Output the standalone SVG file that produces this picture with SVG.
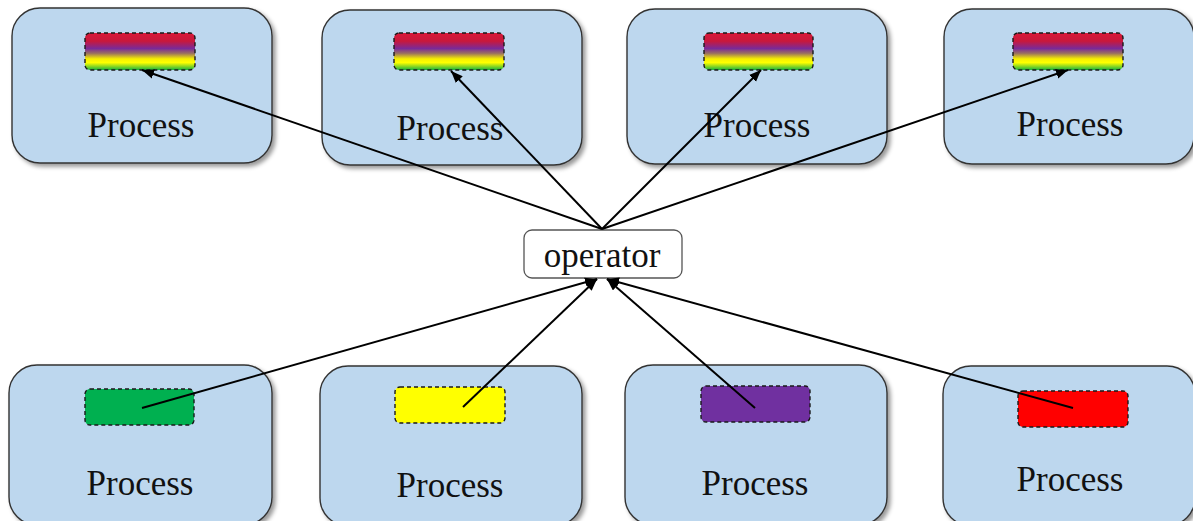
<svg xmlns="http://www.w3.org/2000/svg" width="1193" height="521" viewBox="0 0 1193 521">
  <defs>
    <linearGradient id="rainbow" x1="0" y1="0" x2="0" y2="1">
      <stop offset="0" stop-color="#d81838"/>
      <stop offset="0.22" stop-color="#c8183c"/>
      <stop offset="0.42" stop-color="#7a2a98"/>
      <stop offset="0.55" stop-color="#9a7060"/>
      <stop offset="0.7" stop-color="#f6f000"/>
      <stop offset="0.8" stop-color="#ffff00"/>
      <stop offset="1" stop-color="#18b040"/>
    </linearGradient>
    <filter id="shadow" x="-10%" y="-10%" width="125%" height="125%">
      <feDropShadow dx="3" dy="3" stdDeviation="2" flood-color="#000" flood-opacity="0.4"/>
    </filter>
    <marker id="arrow" viewBox="0 0 10 8" refX="10" refY="4" markerWidth="12" markerHeight="10" markerUnits="userSpaceOnUse" orient="auto">
      <path d="M0,0 L10,4 L0,8 z" fill="#000"/>
    </marker>
    <style>
      .proc { fill: #bdd7ee; stroke: #333; stroke-width: 1.4; filter: url(#shadow); }
      .slot { stroke: #1a1a1a; stroke-width: 1.4; stroke-dasharray: 4 3; }
      .label { font-family: "Liberation Serif", "Times New Roman", serif; font-size: 35px; fill: #111; text-anchor: middle; }
      .op { fill: #fff; stroke: #555; stroke-width: 1.3; }
      .link { stroke: #000; stroke-width: 2; fill: none; marker-end: url(#arrow); }
    </style>
  </defs>

  <!-- top row: processes holding the combined data -->
  <g id="top-process-1">
    <rect class="proc" x="12" y="8" width="260" height="155" rx="28"/>
    <rect class="slot" x="85" y="33" width="110" height="37" rx="5" fill="url(#rainbow)"/>
    <text class="label" x="141" y="137">Process</text>
  </g>
  <g id="top-process-2">
    <rect class="proc" x="322" y="10" width="260" height="155" rx="28"/>
    <rect class="slot" x="394" y="33" width="110" height="37" rx="5" fill="url(#rainbow)"/>
    <text class="label" x="450" y="140">Process</text>
  </g>
  <g id="top-process-3">
    <rect class="proc" x="627" y="9" width="260" height="155" rx="28"/>
    <rect class="slot" x="704" y="33" width="109" height="37" rx="5" fill="url(#rainbow)"/>
    <text class="label" x="757" y="137">Process</text>
  </g>
  <g id="top-process-4">
    <rect class="proc" x="944" y="9" width="250" height="155" rx="28"/>
    <rect class="slot" x="1013" y="33" width="110" height="37" rx="5" fill="url(#rainbow)"/>
    <text class="label" x="1070" y="136">Process</text>
  </g>

  <!-- operator -->
  <g id="operator">
    <rect class="op" x="524" y="230" width="158" height="48" rx="8"/>
    <text class="label" x="602" y="267">operator</text>
  </g>

  <!-- bottom row: processes holding one piece each -->
  <g id="bottom-process-1">
    <rect class="proc" x="9" y="365" width="263" height="160" rx="28"/>
    <rect class="slot" x="85" y="389" width="109" height="36" rx="5" fill="#00b050"/>
    <text class="label" x="140" y="495">Process</text>
  </g>
  <g id="bottom-process-2">
    <rect class="proc" x="320" y="366" width="262" height="160" rx="28"/>
    <rect class="slot" x="395" y="387" width="110" height="36" rx="5" fill="#ffff00"/>
    <text class="label" x="450" y="497">Process</text>
  </g>
  <g id="bottom-process-3">
    <rect class="proc" x="625" y="365" width="262" height="160" rx="28"/>
    <rect class="slot" x="701" y="386" width="109" height="36" rx="5" fill="#7030a0"/>
    <text class="label" x="755" y="495">Process</text>
  </g>
  <g id="bottom-process-4">
    <rect class="proc" x="943" y="366" width="252" height="160" rx="28"/>
    <rect class="slot" x="1018" y="391" width="110" height="36" rx="5" fill="#ff0000"/>
    <text class="label" x="1070" y="491">Process</text>
  </g>

  <!-- connectors -->
  <g id="connectors">
    <line class="link" x1="602" y1="229" x2="142" y2="70"/>
    <line class="link" x1="602" y1="229" x2="451" y2="71"/>
    <line class="link" x1="602" y1="229" x2="761" y2="70"/>
    <line class="link" x1="602" y1="229" x2="1068" y2="70"/>
    <line class="link" x1="142" y1="408" x2="597" y2="279"/>
    <line class="link" x1="463" y1="407" x2="597" y2="279"/>
    <line class="link" x1="755" y1="408" x2="607" y2="279"/>
    <line class="link" x1="1073" y1="408" x2="607" y2="279"/>
  </g>
</svg>
